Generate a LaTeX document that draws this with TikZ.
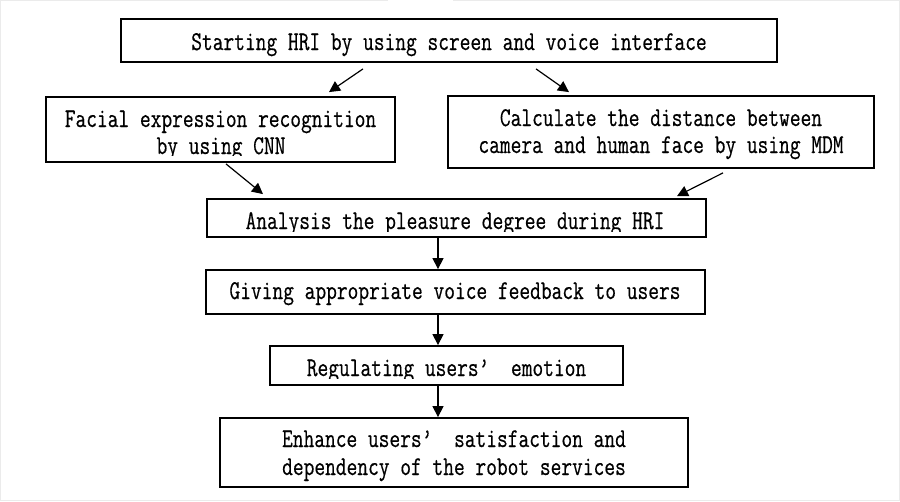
\documentclass[tikz,border=0pt]{standalone}
\usepackage{fontspec}
\usepackage{graphicx}
\usetikzlibrary{arrows.meta}
\newfontfamily\boxfont[FakeBold=0.6]{Latin Modern Mono}
\newcommand\talltext[1]{\scalebox{1}[1.3]{#1}}
\tikzset{
  box/.style={draw, line width=1.8pt, inner sep=0pt, rectangle},
  txt/.style={inner sep=0pt, anchor=base, font=\fontsize{20.85}{27}\selectfont\boxfont},
  arr/.style={line width=1.2pt, -{Triangle[length=11pt,width=11pt]}},
  frameline/.style={draw=black!8, line width=1pt}
}
\begin{document}
\begin{tikzpicture}[x=1pt,y=-1pt]
\useasboundingbox (0,0) rectangle (900,501);
\draw[frameline] (388,0.5) -- (0.5,0.5) -- (0.5,500.5) -- (899.5,500.5) -- (899.5,0.5) -- (453,0.5);

% boxes
\node[box, minimum width=656pt, minimum height=43pt] (b1) at (449,40.5) {};
\node[box, minimum width=349pt, minimum height=65pt] (b2) at (220.5,129.5) {};
\node[box, minimum width=426pt, minimum height=72pt] (b3) at (661,132) {};
\node[box, minimum width=499pt, minimum height=38pt] (b4) at (456.5,218) {};
\node[box, minimum width=499pt, minimum height=44pt] (b5) at (455.5,292) {};
\node[box, minimum width=353pt, minimum height=39pt] (b6) at (446.5,365.5) {};
\node[box, minimum width=468pt, minimum height=69pt] (b7) at (454,452.5) {};

% texts
\node[txt] (t1) at (449,50) {\talltext{Starting HRI by using screen and voice interface}};
\node[txt] (t2a) at (220.5,127) {\talltext{Facial expression recognition}};
\begin{scope}
  \clip (45,131) rectangle (396,155);
  \node[txt] (t2b) at (221,154) {\talltext{by using CNN}};
\end{scope}
\node[txt] (t3a) at (661,126) {\talltext{Calculate the distance between}};
\node[txt] (t3b) at (661,153) {\talltext{camera and human face by using MDM}};
\begin{scope}
  \clip (206,200) rectangle (707,231);
  \node[txt] (t4) at (455,229) {\talltext{Analysis the pleasure degree during HRI}};
\end{scope}
\node[txt] (t5) at (455,299) {\talltext{Giving appropriate voice feedback to users}};
\begin{scope}
  \clip (269,347) rectangle (624,378);
  \node[txt] (t6) at (446.5,376) {\talltext{Regulating users’\hspace{0.525em} emotion}};
\end{scope}
\node[txt] (t7a) at (454,447) {\talltext{Enhance users’\hspace{0.525em} satisfaction and}};
\node[txt] (t7b) at (454,475) {\talltext{dependency of the robot services}};

% connectors
\coordinate (ax) at (438,0);
\draw[arr] ([shift={(-86,6)}]b1.south) -- ([shift={(108.5,-4)}]b2.north);
\draw[arr] ([shift={(87,6)}]b1.south) -- ([shift={(-92,-3)}]b3.north);
\draw[arr] ([shift={(5.5,1)}]b2.south) -- ([shift={(-193.5,-4)}]b4.north);
\draw[arr] ([shift={(62,4)}]b3.south) -- ([shift={(220.5,-2)}]b4.north);
\draw[arr] (b4.south -| ax) -- (b5.north -| ax);
\draw[arr] (b5.south -| ax) -- (b6.north -| ax);
\draw[arr] (b6.south -| ax) -- (b7.north -| ax);
\end{tikzpicture}
\end{document}
